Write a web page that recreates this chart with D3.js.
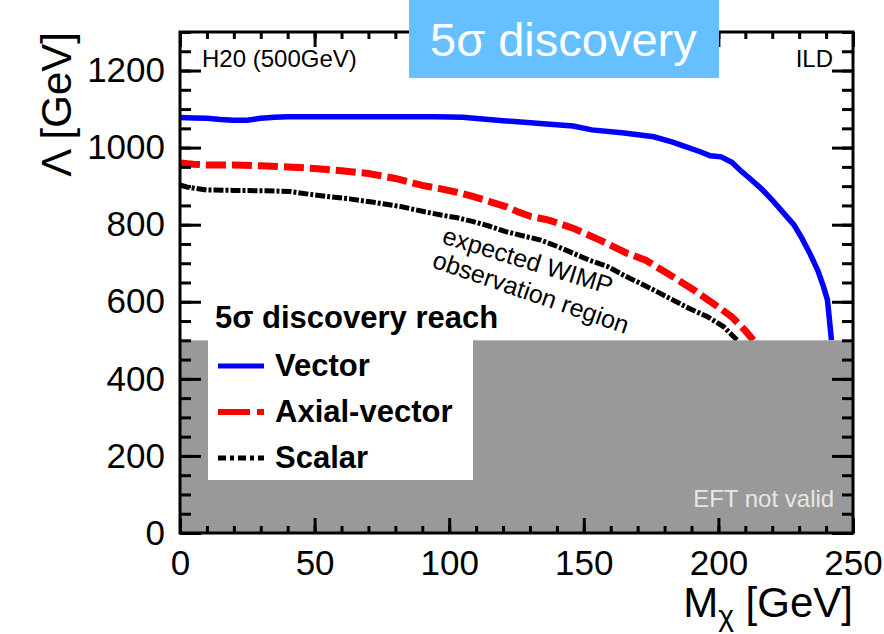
<!DOCTYPE html>
<html>
<head>
<meta charset="utf-8">
<script src="https://cdn.jsdelivr.net/npm/d3@7"></script>
<style>
  body { margin: 0; background: #fff; }
  text { font-family: "Liberation Sans", Arial, Helvetica, sans-serif; }
</style>
</head>
<body>
<div id="chart"></div>
<script>
// 5 sigma discovery reach
let vectorMass = [0, 5, 10, 15, 20, 25, 30, 35, 40, 60, 80, 95, 105, 120, 135, 146, 153, 165, 176, 183, 188, 193, 197, 201, 205, 208, 212, 216, 220, 224, 228, 231, 234, 237, 239, 240.5, 242]
let vectorLambda = [1078, 1077, 1076, 1073, 1071, 1071, 1076, 1079, 1080, 1080, 1080, 1080, 1079, 1070, 1062, 1056, 1046, 1038, 1028, 1014, 1002, 990, 979, 976, 962, 942, 918, 893, 864, 832, 800, 765, 725, 680, 640, 605, 500]

let axialMass = [0, 5, 10, 20, 30, 40, 50, 60, 70, 80, 90, 97, 103, 109, 115, 121, 126, 130, 137, 146, 156, 166, 173, 181, 186, 191, 198, 205, 210, 213]
let axialLambda = [960, 957, 955, 955, 953, 950, 946, 940, 933, 920, 902, 893, 884, 873, 860, 847, 832, 822, 812, 791, 760, 726, 708, 674, 652, 630, 596, 561, 525, 500]

let scalarMass = [0, 3, 10, 20, 32, 41, 50, 63, 72, 82, 90, 97, 103, 109, 115, 121, 128, 134, 140, 146, 152, 159, 165, 171, 177, 183, 189, 196, 202, 207]
let scalarLambda = [903, 897, 890, 889, 888, 886, 877, 867, 858, 847, 835, 825, 818, 808, 796, 782, 770, 760, 744, 726, 708, 691, 668, 648, 627, 605, 583, 561, 535, 500]

let seriesNames = ["Vector", "Axial-vector", "Scalar"]
let xTicks = [0, 50, 100, 150, 200, 250]
let yTicks = [0, 200, 400, 600, 800, 1000, 1200]
let eftLimit = 500

let width = 884, height = 634;
let margin = { top: 32, right: 31, bottom: 101, left: 180 };
let plotW = width - margin.left - margin.right;
let plotH = height - margin.top - margin.bottom;

let svg = d3.select("#chart")
    .append("svg")
    .attr("width", width)
    .attr("height", height);

let g = svg.append("g")
    .attr("transform", "translate(" + margin.left + "," + margin.top + ")");

let xScale = d3.scaleLinear().domain([0, 250]).range([0, plotW]);
let yScale = d3.scaleLinear().domain([0, 1300]).range([plotH, 0]);

let line = d3.line()
    .x(d => xScale(d[0]))
    .y(d => yScale(d[1]));

let series = [
    { name: seriesNames[0], data: d3.zip(vectorMass, vectorLambda), color: "#0000ff", width: 5.5, dash: null },
    { name: seriesNames[1], data: d3.zip(axialMass, axialLambda), color: "#ff0000", width: 7, dash: "20,6" },
    { name: seriesNames[2], data: d3.zip(scalarMass, scalarLambda), color: "#000000", width: 5, dash: "10,2,3,2" }
];

g.selectAll(".curve")
    .data(series)
    .enter()
    .append("path")
    .attr("class", "curve")
    .attr("d", d => line(d.data))
    .attr("fill", "none")
    .attr("stroke", d => d.color)
    .attr("stroke-width", d => d.width)
    .attr("stroke-dasharray", d => d.dash);

// EFT not valid region
g.append("rect")
    .attr("x", 0)
    .attr("y", yScale(eftLimit))
    .attr("width", plotW)
    .attr("height", yScale(0) - yScale(eftLimit))
    .attr("fill", "#999999");

g.append("text")
    .attr("x", xScale(243))
    .attr("y", yScale(68))
    .attr("text-anchor", "end")
    .attr("fill", "#e6e6e6")
    .style("font-size", "24px")
    .text("EFT not valid");

// legend
let legend = g.append("g");
legend.append("rect")
    .attr("x", 28).attr("y", 268)
    .attr("width", 265).attr("height", 180)
    .attr("fill", "#fff");
legend.append("text")
    .attr("x", 35).attr("y", 296)
    .style("font-size", "31px")
    .style("font-weight", "bold")
    .text("5σ discovery reach");

series.forEach((s, i) => {
    let ly = 334 + i * 46;
    legend.append("line")
        .attr("x1", 38).attr("x2", 84)
        .attr("y1", ly).attr("y2", ly)
        .attr("stroke", s.color)
        .attr("stroke-width", i == 1 ? 6 : 5)
        .attr("stroke-dasharray", i == 1 ? "32,7" : (i == 2 ? "8,4,4,4" : null));
    legend.append("text")
        .attr("x", 95).attr("y", ly + 10)
        .style("font-size", "31px")
        .style("font-weight", "bold")
        .text(s.name);
});

// region annotation
g.append("text")
    .attr("transform", "translate(261,211) rotate(17)")
    .style("font-size", "25px")
    .text("expected WIMP");
g.append("text")
    .attr("transform", "translate(251,235) rotate(19)")
    .style("font-size", "25px")
    .text("observation region");

// axes, ticks pointing inwards
let minorX = d3.range(0, 251, 10);
let minorY = d3.range(0, 1301, 50);

g.append("g")
    .attr("transform", "translate(0," + plotH + ")")
    .call(d3.axisBottom(xScale).tickValues(minorX).tickSize(-7).tickFormat(""));
g.append("g")
    .attr("transform", "translate(0," + plotH + ")")
    .call(d3.axisBottom(xScale).tickValues(xTicks).tickSize(-15).tickPadding(17).tickFormat(d3.format("d")));
g.append("g")
    .call(d3.axisTop(xScale).tickValues(minorX).tickSize(-7).tickFormat(""));
g.append("g")
    .call(d3.axisTop(xScale).tickValues(xTicks).tickSize(-15).tickFormat(""));

g.append("g")
    .call(d3.axisLeft(yScale).tickValues(minorY).tickSize(-11).tickFormat(""));
g.append("g")
    .call(d3.axisLeft(yScale).tickValues(yTicks).tickSize(-21).tickPadding(15).tickFormat(d3.format("d")));
g.append("g")
    .attr("transform", "translate(" + plotW + ",0)")
    .call(d3.axisRight(yScale).tickValues(minorY).tickSize(-11).tickFormat(""));
g.append("g")
    .attr("transform", "translate(" + plotW + ",0)")
    .call(d3.axisRight(yScale).tickValues(yTicks).tickSize(-21).tickFormat(""));

g.selectAll(".domain").remove();
g.selectAll(".tick line").attr("stroke", "#000").attr("stroke-width", 3);
g.selectAll(".tick text")
    .attr("fill", "#000")
    .style("font-family", "'Liberation Sans', Arial, sans-serif")
    .style("font-size", "35px");

g.append("rect")
    .attr("x", 0).attr("y", 0)
    .attr("width", plotW).attr("height", plotH)
    .attr("fill", "none")
    .attr("stroke", "#000")
    .attr("stroke-width", 3);

g.append("text")
    .attr("x", 22).attr("y", 35)
    .style("font-size", "24px")
    .text("H20 (500GeV)");
g.append("text")
    .attr("x", plotW - 20).attr("y", 35)
    .attr("text-anchor", "end")
    .style("font-size", "24px")
    .text("ILD");

// axis titles
let xTitle = svg.append("text")
    .attr("x", margin.left + plotW)
    .attr("y", 617)
    .attr("text-anchor", "end")
    .style("font-size", "42px");
xTitle.append("tspan").text("M");
xTitle.append("tspan").attr("dy", 9).style("font-size", "30px").text("χ");
xTitle.append("tspan").attr("dy", -9).text(" [GeV]");

svg.append("text")
    .attr("transform", "translate(71," + margin.top + ") rotate(-90)")
    .attr("text-anchor", "end")
    .style("font-size", "42px")
    .text("Λ [GeV]");

// title badge
svg.append("rect")
    .attr("x", 409).attr("y", 0)
    .attr("width", 310).attr("height", 78)
    .attr("fill", "#66bfff");
svg.append("text")
    .attr("x", 430).attr("y", 56)
    .attr("fill", "#fff")
    .style("font-size", "47px")
    .text("5σ discovery");
</script>
</body>
</html>
